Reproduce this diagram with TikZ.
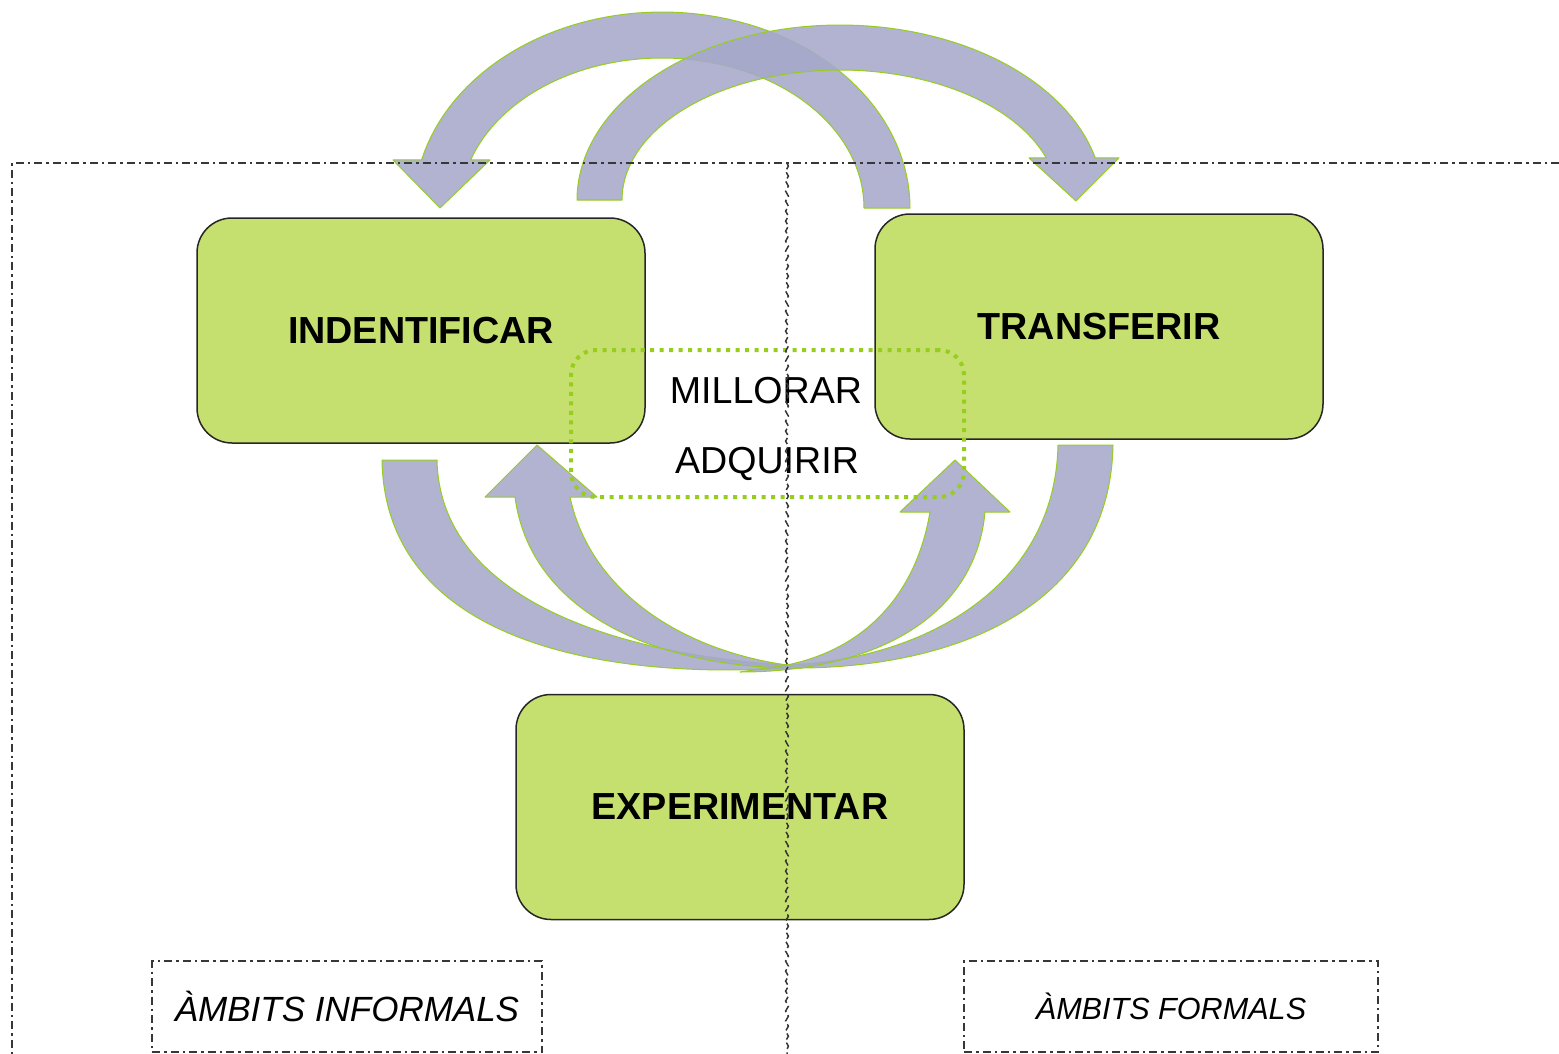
\documentclass[tikz,border=0pt]{standalone}
\usepackage{fontspec}
\setmainfont{Liberation Sans}
\usetikzlibrary{decorations.pathmorphing}
\definecolor{boxgreen}{RGB}{197,224,110}
\definecolor{linegreen}{RGB}{150,205,30}
\definecolor{arrowc}{RGB}{166,168,202}
\definecolor{framec}{RGB}{55,55,55}
\begin{document}
\begin{tikzpicture}[x=1pt,y=-1pt,
  greenbox/.style={draw=black!85, line width=1.5pt, fill=boxgreen, rounded corners=35pt,
    minimum width=448pt, minimum height=225pt, inner sep=0pt,
    font=\fontsize{37.7}{45}\selectfont\bfseries},
  bandarrow/.style={fill=arrowc, fill opacity=0.88, draw=linegreen, line width=1pt, line join=round},
  dashdotline/.style={draw=framec, line width=2pt, dash pattern=on 8pt off 4pt on 2.5pt off 4pt},
  labelbox/.style={dashdotline, minimum width=390pt, minimum height=91pt, inner sep=0pt},
  plaintext/.style={font=\fontsize{37.6}{45}\selectfont, inner sep=0pt, anchor=base},
  dottedbox/.style={draw=linegreen, line width=4pt, dash pattern=on 4pt off 5.5pt, rounded corners=25pt,
    minimum width=393pt, minimum height=147pt, inner sep=0pt}
]
\useasboundingbox (0,0) rectangle (1559,1054);

% top curved arrows
\draw[bandarrow] plot[domain=0:165.8, samples=70] ({662+248*cos(\x)},{208-196*sin(\x)})
  -- (393,160) -- (440,208) -- (490,160)
  -- plot[domain=161.3:0, samples=70] ({662+202*cos(\x)},{208-150*sin(\x)}) -- cycle;
\draw[bandarrow] plot[domain=180:18.85, samples=70] ({840+218*cos(\x)},{200-130*sin(\x)})
  -- (1029,158) -- (1076,201) -- (1119,158)
  -- plot[domain=13.89:180, samples=70] ({840+263*cos(\x)},{200-175*sin(\x)}) -- cycle;

% bottom curved arrows
\draw[bandarrow] (382,460) -- (437,460) .. controls (440,600) and (620,655) .. (787,665)
  -- (787,668) .. controls (600,680) and (385,640) .. (382,460) -- cycle;
\draw[bandarrow] (1058,445) -- (1113,445) .. controls (1110,610) and (950,670) .. (787,668)
  -- (787,665) .. controls (920,660) and (1055,590) .. (1058,445) -- cycle;
\draw[bandarrow] (787,668) .. controls (650,665) and (530,610) .. (515,497) -- (485,497) -- (537,445)
  -- (597,497) -- (570,497) .. controls (590,590) and (680,650) .. (787,665) -- cycle;
\draw[bandarrow] (787,665) .. controls (860,650) and (915,600) .. (930,512) -- (900,512) -- (955,460)
  -- (1010,512) -- (985,512) .. controls (975,620) and (870,672) .. (740,672) -- cycle;

% frame
\coordinate (frTR) at (1559,163);
\coordinate (frTL) at (12,163);
\coordinate (frBL) at (12,1054);
\draw[dashdotline] (frTR) -- (frTL) -- (frBL);

% boxes
\node[greenbox] (ident) at (421,330.5) {INDENTIFICAR};
\node[greenbox] (transf) at (1099,326.5) {TRANSFERIR};
\node[greenbox] (exper) at (740,807) {EXPERIMENTAR};

% middle dotted box and labels
\node[dottedbox] (mid) at (767.5,423.5) {};
\node[plaintext] (millorar) at (766,403) {MILLORAR};
\node[plaintext] (adquirir) at (767,473) {ADQUIRIR};

% label boxes
\node[labelbox, font=\fontsize{35}{40}\selectfont\itshape] (informal) at (347,1006.5) {ÀMBITS INFORMALS};
\node[labelbox, minimum width=414pt, font=\fontsize{30.6}{36}\selectfont\itshape] (formal) at (1171,1006.5) {ÀMBITS FORMALS};

% vertical divider
\coordinate (vtop) at (787,163);
\coordinate (vbot) at (787,1054);
\draw[framec, line width=1.5pt, dash pattern=on 7pt off 3.5pt, decorate,
  decoration={snake, amplitude=1.4pt, segment length=10pt}] (vtop) -- (vbot);
\end{tikzpicture}
\end{document}
